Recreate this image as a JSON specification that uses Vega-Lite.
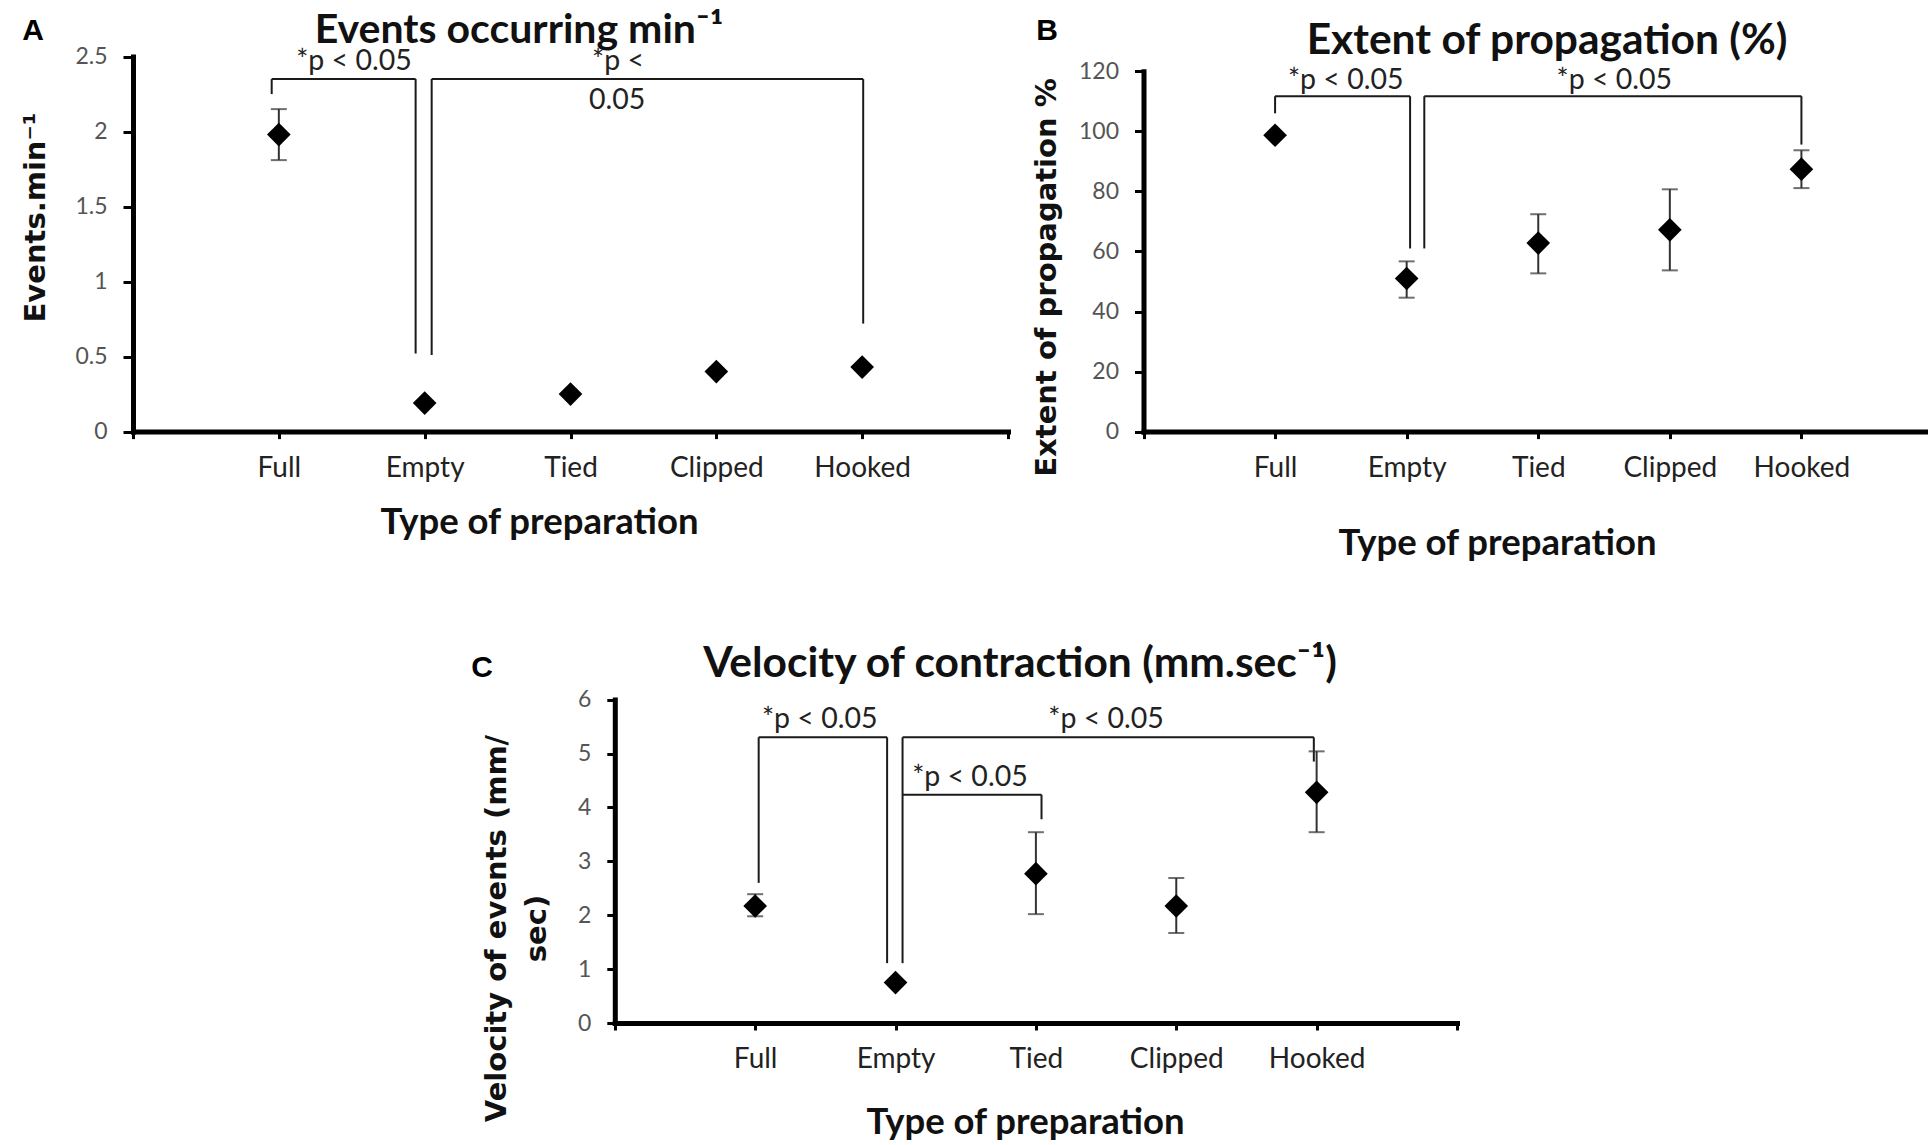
{
  "$schema": "https://vega.github.io/schema/vega-lite/v6.json",
  "width": 1928,
  "height": 1145,
  "autosize": "none",
  "padding": 0,
  "background": "white",
  "config": {
    "view": {"stroke": null},
    "axis": {
      "grid": false,
      "domainColor": "#000",
      "domainWidth": 5,
      "domainCap": "square",
      "tickColor": "#000",
      "tickWidth": 3,
      "labelFont": "Lato",
      "labelOverlap": false,
      "labelFlush": false,
      "titleColor": "#111"
    }
  },
  "datasets": {
    "A_pts": [
      {"prep": "Full", "x": 1, "y": 1.98, "lo": 1.81, "hi": 2.15},
      {"prep": "Empty", "x": 2, "y": 0.19},
      {"prep": "Tied", "x": 3, "y": 0.25},
      {"prep": "Clipped", "x": 4, "y": 0.40},
      {"prep": "Hooked", "x": 5, "y": 0.43}
    ],
    "A_br": [
      {"x": 0.951, "y": 2.35, "x2": 1.938, "y2": 2.35},
      {"x": 0.951, "y": 2.35, "x2": 0.951, "y2": 2.25},
      {"x": 1.938, "y": 2.35, "x2": 1.938, "y2": 0.52},
      {"x": 2.048, "y": 2.35, "x2": 5.007, "y2": 2.35},
      {"x": 2.048, "y": 2.35, "x2": 2.048, "y2": 0.51},
      {"x": 5.007, "y": 2.35, "x2": 5.007, "y2": 0.72}
    ],
    "A_txt": [
      {"t": "*p < 0.05", "x": 1.515, "y": 2.41},
      {"t": "*p <", "x": 3.326, "y": 2.41},
      {"t": "0.05", "x": 3.32, "y": 2.15}
    ],
    "A_title": [{"t": "Events occurring min⁻¹", "x": 2.647, "y": 2.593}],
    "A_letter": [{"t": "A", "x": -0.686, "y": 2.611}],
    "B_pts": [
      {"prep": "Full", "x": 1, "y": 98.7},
      {"prep": "Empty", "x": 2, "y": 51.0, "lo": 44.6, "hi": 56.7},
      {"prep": "Tied", "x": 3, "y": 62.8, "lo": 52.7, "hi": 72.4},
      {"prep": "Clipped", "x": 4, "y": 67.2, "lo": 53.7, "hi": 80.7},
      {"prep": "Hooked", "x": 5, "y": 87.4, "lo": 81.1, "hi": 93.7}
    ],
    "B_br": [
      {"x": 1.0, "y": 111.7, "x2": 2.026, "y2": 111.7},
      {"x": 1.0, "y": 111.7, "x2": 1.0, "y2": 106},
      {"x": 2.026, "y": 111.7, "x2": 2.026, "y2": 61},
      {"x": 2.134, "y": 111.7, "x2": 5.0, "y2": 111.7},
      {"x": 2.134, "y": 111.7, "x2": 2.134, "y2": 61},
      {"x": 5.0, "y": 111.7, "x2": 5.0, "y2": 95.6}
    ],
    "B_txt": [
      {"t": "*p < 0.05", "x": 1.537, "y": 114},
      {"t": "*p < 0.05", "x": 3.578, "y": 114}
    ],
    "B_title": [{"t": "Extent of propagation (%)", "x": 3.067, "y": 125.9}],
    "B_letter": [{"t": "B", "x": -0.733, "y": 130.4}],
    "C_pts": [
      {"prep": "Full", "x": 1, "y": 2.17, "lo": 1.98, "hi": 2.39},
      {"prep": "Empty", "x": 2, "y": 0.75},
      {"prep": "Tied", "x": 3, "y": 2.77, "lo": 2.02, "hi": 3.54},
      {"prep": "Clipped", "x": 4, "y": 2.17, "lo": 1.67, "hi": 2.69},
      {"prep": "Hooked", "x": 5, "y": 4.28, "lo": 3.54, "hi": 5.04}
    ],
    "C_br": [
      {"x": 1.025, "y": 5.3, "x2": 1.94, "y2": 5.3},
      {"x": 1.025, "y": 5.3, "x2": 1.025, "y2": 2.6},
      {"x": 1.94, "y": 5.3, "x2": 1.94, "y2": 1.11},
      {"x": 2.05, "y": 5.3, "x2": 4.98, "y2": 5.3},
      {"x": 2.05, "y": 5.3, "x2": 2.05, "y2": 1.11},
      {"x": 4.98, "y": 5.3, "x2": 4.98, "y2": 4.85},
      {"x": 2.05, "y": 4.235, "x2": 3.04, "y2": 4.235},
      {"x": 3.04, "y": 4.235, "x2": 3.04, "y2": 3.78}
    ],
    "C_txt": [
      {"t": "*p < 0.05", "x": 1.46, "y": 5.47},
      {"t": "*p < 0.05", "x": 3.5, "y": 5.47},
      {"t": "*p < 0.05", "x": 2.53, "y": 4.40}
    ],
    "C_title": [{"t": "Velocity of contraction (mm.sec⁻¹)", "x": 2.887, "y": 6.42}],
    "C_letter": [{"t": "C", "x": -0.946, "y": 6.42}]
  },
  "resolve": {
    "scale": {"x": "independent", "y": "independent"},
    "axis": {"x": "independent", "y": "independent"}
  },
  "layer": [
    {
      "layer": [
        {
          "data": {"name": "A_br"},
          "mark": {"type": "rule", "color": "#1a1a1a", "strokeWidth": 2},
          "encoding": {
            "x": {"field": "x", "type": "quantitative", "scale": {"domain": [0, 6], "range": [133, 1008], "nice": false, "zero": false}},
            "x2": {"field": "x2"},
            "y": {"field": "y", "type": "quantitative", "scale": {"domain": [0, 2.5], "range": [431.6, 56.6], "nice": false}},
            "y2": {"field": "y2"}
          }
        },
        {
          "data": {"name": "A_pts"},
          "transform": [{"filter": "isValid(datum.lo)"}],
          "mark": {"type": "rule", "color": "#333", "strokeWidth": 2},
          "encoding": {
            "x": {"field": "x", "type": "quantitative", "scale": {"domain": [0, 6], "range": [133, 1008], "nice": false, "zero": false}},
            "y": {"field": "lo", "type": "quantitative", "scale": {"domain": [0, 2.5], "range": [431.6, 56.6], "nice": false}},
            "y2": {"field": "hi"}
          }
        },
        {
          "data": {"name": "A_pts"},
          "transform": [{"filter": "isValid(datum.lo)"}],
          "mark": {"type": "tick", "orient": "horizontal", "color": "#333", "size": 16, "thickness": 2},
          "encoding": {
            "x": {"field": "x", "type": "quantitative", "scale": {"domain": [0, 6], "range": [133, 1008], "nice": false, "zero": false}},
            "y": {"field": "lo", "type": "quantitative", "scale": {"domain": [0, 2.5], "range": [431.6, 56.6], "nice": false}}
          }
        },
        {
          "data": {"name": "A_pts"},
          "transform": [{"filter": "isValid(datum.hi)"}],
          "mark": {"type": "tick", "orient": "horizontal", "color": "#333", "size": 16, "thickness": 2},
          "encoding": {
            "x": {"field": "x", "type": "quantitative", "scale": {"domain": [0, 6], "range": [133, 1008], "nice": false, "zero": false}},
            "y": {"field": "hi", "type": "quantitative", "scale": {"domain": [0, 2.5], "range": [431.6, 56.6], "nice": false}}
          }
        },
        {
          "data": {"name": "A_pts"},
          "mark": {"type": "point", "shape": "diamond", "filled": true, "color": "#000", "opacity": 1, "size": 560},
          "encoding": {
            "x": {
              "field": "x", "type": "quantitative",
              "scale": {"domain": [0, 6], "range": [133, 1008], "nice": false, "zero": false},
              "axis": {
                "orient": "bottom", "offset": -713.4,
                "values": [0, 1, 2, 3, 4, 5, 6],
                "labelExpr": "datum.value == 1 ? 'Full' : datum.value == 2 ? 'Empty' : datum.value == 3 ? 'Tied' : datum.value == 4 ? 'Clipped' : datum.value == 5 ? 'Hooked' : ''",
                "tickSize": 7, "labelPadding": 38, "labelBaseline": "alphabetic",
                "labelFontSize": 28, "labelColor": "#222",
                "title": "Type of preparation", "titleFont": "Lato", "titleFontSize": 36.5, "titleFontWeight": "bold",
                "titleX": 539, "titleY": 101.7, "titleBaseline": "alphabetic"
              }
            },
            "y": {
              "field": "y", "type": "quantitative",
              "scale": {"domain": [0, 2.5], "range": [431.6, 56.6], "nice": false},
              "axis": {
                "orient": "left", "offset": -133,
                "values": [0, 0.5, 1, 1.5, 2, 2.5], "format": "~g",
                "tickSize": 10, "labelPadding": 16, "labelFontSize": 23, "labelColor": "#555",
                "title": "Events.min⁻¹", "titleFont": "DejaVu Sans", "titleFontSize": 29, "titleFontWeight": "bold",
                "titleX": -89, "titleY": 217, "titleBaseline": "alphabetic"
              }
            }
          }
        },
        {
          "data": {"name": "A_txt"},
          "mark": {"type": "text", "font": "Lato", "fontSize": 28.5, "color": "#222", "align": "center", "baseline": "alphabetic"},
          "encoding": {
            "x": {"field": "x", "type": "quantitative", "scale": {"domain": [0, 6], "range": [133, 1008], "nice": false, "zero": false}},
            "y": {"field": "y", "type": "quantitative", "scale": {"domain": [0, 2.5], "range": [431.6, 56.6], "nice": false}},
            "text": {"field": "t"}
          }
        },
        {
          "data": {"name": "A_title"},
          "mark": {"type": "text", "font": "Lato", "fontSize": 41, "fontWeight": "bold", "color": "#111", "align": "center", "baseline": "alphabetic"},
          "encoding": {
            "x": {"field": "x", "type": "quantitative", "scale": {"domain": [0, 6], "range": [133, 1008], "nice": false, "zero": false}},
            "y": {"field": "y", "type": "quantitative", "scale": {"domain": [0, 2.5], "range": [431.6, 56.6], "nice": false}},
            "text": {"field": "t"}
          }
        },
        {
          "data": {"name": "A_letter"},
          "mark": {"type": "text", "font": "Liberation Sans", "fontSize": 30, "fontWeight": "bold", "color": "#000", "align": "center", "baseline": "alphabetic"},
          "encoding": {
            "x": {"field": "x", "type": "quantitative", "scale": {"domain": [0, 6], "range": [133, 1008], "nice": false, "zero": false}},
            "y": {"field": "y", "type": "quantitative", "scale": {"domain": [0, 2.5], "range": [431.6, 56.6], "nice": false}},
            "text": {"field": "t"}
          }
        }
      ]
    },
    {
      "layer": [
        {
          "data": {"name": "B_br"},
          "mark": {"type": "rule", "color": "#1a1a1a", "strokeWidth": 2},
          "encoding": {
            "x": {"field": "x", "type": "quantitative", "scale": {"domain": [0, 6], "range": [1143.5, 1933], "nice": false, "zero": false}},
            "x2": {"field": "x2"},
            "y": {"field": "y", "type": "quantitative", "scale": {"domain": [0, 120], "range": [431.6, 71.3], "nice": false}},
            "y2": {"field": "y2"}
          }
        },
        {
          "data": {"name": "B_pts"},
          "transform": [{"filter": "isValid(datum.lo)"}],
          "mark": {"type": "rule", "color": "#333", "strokeWidth": 2},
          "encoding": {
            "x": {"field": "x", "type": "quantitative", "scale": {"domain": [0, 6], "range": [1143.5, 1933], "nice": false, "zero": false}},
            "y": {"field": "lo", "type": "quantitative", "scale": {"domain": [0, 120], "range": [431.6, 71.3], "nice": false}},
            "y2": {"field": "hi"}
          }
        },
        {
          "data": {"name": "B_pts"},
          "transform": [{"filter": "isValid(datum.lo)"}],
          "mark": {"type": "tick", "orient": "horizontal", "color": "#333", "size": 16, "thickness": 2},
          "encoding": {
            "x": {"field": "x", "type": "quantitative", "scale": {"domain": [0, 6], "range": [1143.5, 1933], "nice": false, "zero": false}},
            "y": {"field": "lo", "type": "quantitative", "scale": {"domain": [0, 120], "range": [431.6, 71.3], "nice": false}}
          }
        },
        {
          "data": {"name": "B_pts"},
          "transform": [{"filter": "isValid(datum.hi)"}],
          "mark": {"type": "tick", "orient": "horizontal", "color": "#333", "size": 16, "thickness": 2},
          "encoding": {
            "x": {"field": "x", "type": "quantitative", "scale": {"domain": [0, 6], "range": [1143.5, 1933], "nice": false, "zero": false}},
            "y": {"field": "hi", "type": "quantitative", "scale": {"domain": [0, 120], "range": [431.6, 71.3], "nice": false}}
          }
        },
        {
          "data": {"name": "B_pts"},
          "mark": {"type": "point", "shape": "diamond", "filled": true, "color": "#000", "opacity": 1, "size": 560},
          "encoding": {
            "x": {
              "field": "x", "type": "quantitative",
              "scale": {"domain": [0, 6], "range": [1143.5, 1933], "nice": false, "zero": false},
              "axis": {
                "orient": "bottom", "offset": -713.4,
                "values": [0, 1, 2, 3, 4, 5, 6],
                "labelExpr": "datum.value == 1 ? 'Full' : datum.value == 2 ? 'Empty' : datum.value == 3 ? 'Tied' : datum.value == 4 ? 'Clipped' : datum.value == 5 ? 'Hooked' : ''",
                "tickSize": 7, "labelPadding": 38, "labelBaseline": "alphabetic",
                "labelFontSize": 28, "labelColor": "#222",
                "title": "Type of preparation", "titleFont": "Lato", "titleFontSize": 36.5, "titleFontWeight": "bold",
                "titleX": 1497, "titleY": 123, "titleBaseline": "alphabetic"
              }
            },
            "y": {
              "field": "y", "type": "quantitative",
              "scale": {"domain": [0, 120], "range": [431.6, 71.3], "nice": false},
              "axis": {
                "orient": "left", "offset": -1143.5,
                "values": [0, 20, 40, 60, 80, 100, 120], "format": "~g",
                "tickSize": 9, "labelPadding": 16, "labelFontSize": 23, "labelColor": "#555",
                "title": "Extent of propagation %", "titleFont": "DejaVu Sans", "titleFontSize": 29, "titleFontWeight": "bold",
                "titleX": -88, "titleY": 277, "titleBaseline": "alphabetic"
              }
            }
          }
        },
        {
          "data": {"name": "B_txt"},
          "mark": {"type": "text", "font": "Lato", "fontSize": 28.5, "color": "#222", "align": "center", "baseline": "alphabetic"},
          "encoding": {
            "x": {"field": "x", "type": "quantitative", "scale": {"domain": [0, 6], "range": [1143.5, 1933], "nice": false, "zero": false}},
            "y": {"field": "y", "type": "quantitative", "scale": {"domain": [0, 120], "range": [431.6, 71.3], "nice": false}},
            "text": {"field": "t"}
          }
        },
        {
          "data": {"name": "B_title"},
          "mark": {"type": "text", "font": "Lato", "fontSize": 42.5, "fontWeight": "bold", "color": "#111", "align": "center", "baseline": "alphabetic"},
          "encoding": {
            "x": {"field": "x", "type": "quantitative", "scale": {"domain": [0, 6], "range": [1143.5, 1933], "nice": false, "zero": false}},
            "y": {"field": "y", "type": "quantitative", "scale": {"domain": [0, 120], "range": [431.6, 71.3], "nice": false}},
            "text": {"field": "t"}
          }
        },
        {
          "data": {"name": "B_letter"},
          "mark": {"type": "text", "font": "Liberation Sans", "fontSize": 30, "fontWeight": "bold", "color": "#000", "align": "center", "baseline": "alphabetic"},
          "encoding": {
            "x": {"field": "x", "type": "quantitative", "scale": {"domain": [0, 6], "range": [1143.5, 1933], "nice": false, "zero": false}},
            "y": {"field": "y", "type": "quantitative", "scale": {"domain": [0, 120], "range": [431.6, 71.3], "nice": false}},
            "text": {"field": "t"}
          }
        }
      ]
    },
    {
      "layer": [
        {
          "data": {"name": "C_br"},
          "mark": {"type": "rule", "color": "#1a1a1a", "strokeWidth": 2},
          "encoding": {
            "x": {"field": "x", "type": "quantitative", "scale": {"domain": [0, 6], "range": [614.8, 1457], "nice": false, "zero": false}},
            "x2": {"field": "x2"},
            "y": {"field": "y", "type": "quantitative", "scale": {"domain": [0, 6], "range": [1023, 699.6], "nice": false}},
            "y2": {"field": "y2"}
          }
        },
        {
          "data": {"name": "C_pts"},
          "transform": [{"filter": "isValid(datum.lo)"}],
          "mark": {"type": "rule", "color": "#333", "strokeWidth": 2},
          "encoding": {
            "x": {"field": "x", "type": "quantitative", "scale": {"domain": [0, 6], "range": [614.8, 1457], "nice": false, "zero": false}},
            "y": {"field": "lo", "type": "quantitative", "scale": {"domain": [0, 6], "range": [1023, 699.6], "nice": false}},
            "y2": {"field": "hi"}
          }
        },
        {
          "data": {"name": "C_pts"},
          "transform": [{"filter": "isValid(datum.lo)"}],
          "mark": {"type": "tick", "orient": "horizontal", "color": "#333", "size": 16, "thickness": 2},
          "encoding": {
            "x": {"field": "x", "type": "quantitative", "scale": {"domain": [0, 6], "range": [614.8, 1457], "nice": false, "zero": false}},
            "y": {"field": "lo", "type": "quantitative", "scale": {"domain": [0, 6], "range": [1023, 699.6], "nice": false}}
          }
        },
        {
          "data": {"name": "C_pts"},
          "transform": [{"filter": "isValid(datum.hi)"}],
          "mark": {"type": "tick", "orient": "horizontal", "color": "#333", "size": 16, "thickness": 2},
          "encoding": {
            "x": {"field": "x", "type": "quantitative", "scale": {"domain": [0, 6], "range": [614.8, 1457], "nice": false, "zero": false}},
            "y": {"field": "hi", "type": "quantitative", "scale": {"domain": [0, 6], "range": [1023, 699.6], "nice": false}}
          }
        },
        {
          "data": {"name": "C_pts"},
          "mark": {"type": "point", "shape": "diamond", "filled": true, "color": "#000", "opacity": 1, "size": 560},
          "encoding": {
            "x": {
              "field": "x", "type": "quantitative",
              "scale": {"domain": [0, 6], "range": [614.8, 1457], "nice": false, "zero": false},
              "axis": {
                "orient": "bottom", "offset": -122,
                "values": [0, 1, 2, 3, 4, 5, 6],
                "labelExpr": "datum.value == 1 ? 'Full' : datum.value == 2 ? 'Empty' : datum.value == 3 ? 'Tied' : datum.value == 4 ? 'Clipped' : datum.value == 5 ? 'Hooked' : ''",
                "tickSize": 7, "labelPadding": 37, "labelBaseline": "alphabetic",
                "labelFontSize": 28, "labelColor": "#222",
                "title": "Type of preparation", "titleFont": "Lato", "titleFontSize": 36.5, "titleFontWeight": "bold",
                "titleX": 1025, "titleY": 110, "titleBaseline": "alphabetic"
              }
            },
            "y": {
              "field": "y", "type": "quantitative",
              "scale": {"domain": [0, 6], "range": [1023, 699.6], "nice": false},
              "axis": {
                "orient": "left", "offset": -614.8,
                "values": [0, 1, 2, 3, 4, 5, 6], "format": "~g",
                "tickSize": 8, "labelPadding": 16, "labelFontSize": 23, "labelColor": "#555",
                "title": ["Velocity of events (mm/", "sec)"], "titleFont": "DejaVu Sans", "titleFontSize": 29, "titleFontWeight": "bold",
                "titleLineHeight": 40,
                "titleX": -109, "titleY": 928, "titleBaseline": "alphabetic"
              }
            }
          }
        },
        {
          "data": {"name": "C_txt"},
          "mark": {"type": "text", "font": "Lato", "fontSize": 28.5, "color": "#222", "align": "center", "baseline": "alphabetic"},
          "encoding": {
            "x": {"field": "x", "type": "quantitative", "scale": {"domain": [0, 6], "range": [614.8, 1457], "nice": false, "zero": false}},
            "y": {"field": "y", "type": "quantitative", "scale": {"domain": [0, 6], "range": [1023, 699.6], "nice": false}},
            "text": {"field": "t"}
          }
        },
        {
          "data": {"name": "C_title"},
          "mark": {"type": "text", "font": "Lato", "fontSize": 42.5, "fontWeight": "bold", "color": "#111", "align": "center", "baseline": "alphabetic"},
          "encoding": {
            "x": {"field": "x", "type": "quantitative", "scale": {"domain": [0, 6], "range": [614.8, 1457], "nice": false, "zero": false}},
            "y": {"field": "y", "type": "quantitative", "scale": {"domain": [0, 6], "range": [1023, 699.6], "nice": false}},
            "text": {"field": "t"}
          }
        },
        {
          "data": {"name": "C_letter"},
          "mark": {"type": "text", "font": "Liberation Sans", "fontSize": 30, "fontWeight": "bold", "color": "#000", "align": "center", "baseline": "alphabetic"},
          "encoding": {
            "x": {"field": "x", "type": "quantitative", "scale": {"domain": [0, 6], "range": [614.8, 1457], "nice": false, "zero": false}},
            "y": {"field": "y", "type": "quantitative", "scale": {"domain": [0, 6], "range": [1023, 699.6], "nice": false}},
            "text": {"field": "t"}
          }
        }
      ]
    }
  ]
}
